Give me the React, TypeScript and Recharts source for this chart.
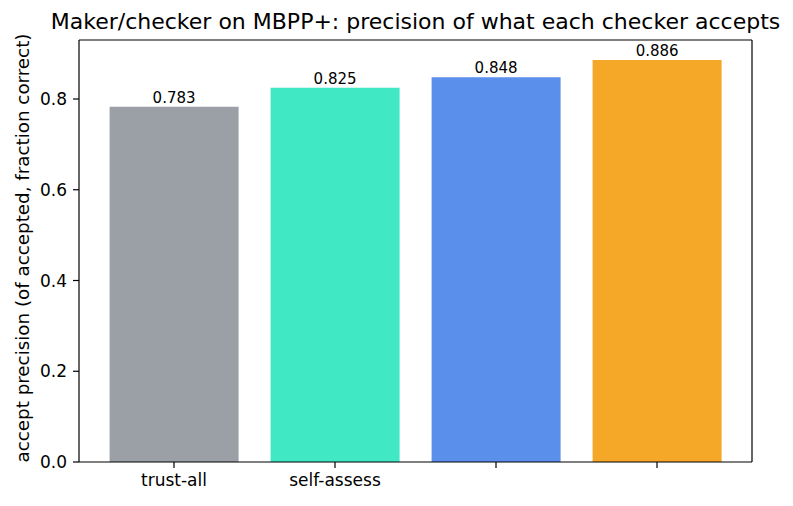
import React from "react";
import { BarChart, Bar, XAxis, YAxis, Cell, LabelList, ReferenceLine } from "recharts";

const categories = ["trust-all", "self-assess", "", ""];
const precision = [0.783, 0.825, 0.848, 0.886];
const barColors = ["#9ba0a6", "#40e8c4", "#5b8fec", "#f5a728"];
const yTicks = [0, 0.2, 0.4, 0.6, 0.8];
const xTicks = [0, 1, 2, 3];
const xDomain: [number, number] = [-0.59, 3.59];
const yDomain: [number, number] = [0, 0.93];

const data = categories.map((name, i) => ({ x: i, name, precision: precision[i] }));

const FONT = "DejaVu Sans, sans-serif";

const YLabel = (props: any) => {
  const vb = props.viewBox || { x: 0, y: 0, width: 0, height: 0 };
  const cx = vb.x + 22;
  const cy = vb.y + vb.height / 2 - 3;
  return (
    <text
      x={cx}
      y={cy}
      transform={`rotate(-90, ${cx}, ${cy})`}
      textAnchor="middle"
      dominantBaseline="central"
      fontSize={18.3}
      fontFamily={FONT}
      fill="#000"
    >
      accept precision (of accepted, fraction correct)
    </text>
  );
};

export default function App() {
  return (
    <div style={{ position: "absolute", left: 0, top: 0, width: 793, height: 506, background: "#fff" }}>
      <svg width={793} height={40} style={{ position: "absolute", left: 0, top: 0 }}>
        <text x={415.5} y={29} textAnchor="middle" fontSize={22} fontFamily={FONT} fill="#000">
          Maker/checker on MBPP+: precision of what each checker accepts
        </text>
      </svg>
      <div style={{ position: "absolute", left: 0, top: 0 }}>
        <BarChart
          width={793}
          height={506}
          data={data}
          margin={{ top: 40, right: 41, bottom: 0, left: 0 }}
          barCategoryGap="10%"
        >
          <XAxis
            dataKey="x"
            type="number"
            domain={xDomain}
            ticks={xTicks}
            tickFormatter={(v: number) => categories[v] ?? ""}
            interval={0}
            height={44}
            tickSize={6}
            tickMargin={6}
            axisLine={{ stroke: "#000", strokeWidth: 1.2 }}
            tickLine={{ stroke: "#000", strokeWidth: 1.2 }}
            tick={{ fill: "#000", fontSize: 17, fontFamily: FONT }}
            allowDataOverflow
          />
          <YAxis
            type="number"
            domain={yDomain}
            ticks={yTicks}
            tickFormatter={(v: number) => v.toFixed(1)}
            width={79}
            tickSize={6}
            tickMargin={6}
            axisLine={{ stroke: "#000", strokeWidth: 1.2 }}
            tickLine={{ stroke: "#000", strokeWidth: 1.2 }}
            tick={{ fill: "#000", fontSize: 17, fontFamily: FONT }}
            label={<YLabel />}
            allowDataOverflow
          />
          <Bar dataKey="precision" isAnimationActive={false}>
            {data.map((d, i) => (
              <Cell key={d.x} fill={barColors[i]} />
            ))}
            <LabelList
              dataKey="precision"
              position="top"
              offset={4}
              formatter={(v: number) => v.toFixed(3)}
              style={{ fill: "#000", fontSize: 15, fontFamily: FONT }}
            />
          </Bar>
          <ReferenceLine y={yDomain[1]} stroke="#000" strokeWidth={1.2} ifOverflow="extendDomain" />
          <ReferenceLine x={xDomain[1]} stroke="#000" strokeWidth={1.2} ifOverflow="extendDomain" />
        </BarChart>
      </div>
    </div>
  );
}
